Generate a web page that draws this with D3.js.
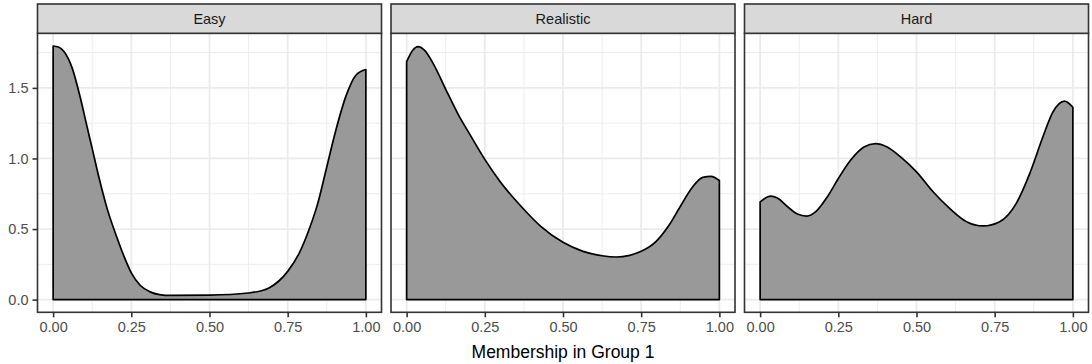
<!DOCTYPE html>
<html>
<head>
<meta charset="utf-8">
<script src="https://cdn.jsdelivr.net/npm/d3@7"></script>
<style>
  body { margin: 0; background: #fff; }
  svg text { font-family: "Liberation Sans", Arial, sans-serif; }
</style>
</head>
<body>
<div id="chart"></div>
<script>
// facet names
const facets = ["Easy", "Realistic", "Hard"];

// density curves (x = membership, y = density)
const easyX = [0, 0.017, 0.034, 0.061, 0.087, 0.109, 0.125, 0.146, 0.172, 0.204, 0.226, 0.25, 0.279, 0.31, 0.34, 0.375, 0.5, 0.625, 0.69, 0.75, 0.787, 0.819, 0.846, 0.875, 0.904, 0.936, 0.968, 1];
const easyY = [1.797, 1.79, 1.76, 1.64, 1.43, 1.22, 1.07, 0.87, 0.65, 0.44, 0.31, 0.19, 0.1, 0.055, 0.036, 0.03, 0.032, 0.047, 0.083, 0.2, 0.33, 0.5, 0.68, 0.94, 1.2, 1.44, 1.59, 1.63];

const realisticX = [0, 0.019, 0.037, 0.056, 0.088, 0.125, 0.163, 0.205, 0.251, 0.301, 0.376, 0.429, 0.5, 0.564, 0.625, 0.67, 0.713, 0.75, 0.798, 0.84, 0.875, 0.915, 0.947, 0.973, 1];
const realisticY = [1.686, 1.765, 1.792, 1.77, 1.66, 1.49, 1.32, 1.16, 0.99, 0.83, 0.637, 0.519, 0.406, 0.342, 0.311, 0.302, 0.314, 0.342, 0.413, 0.53, 0.66, 0.8, 0.866, 0.873, 0.844];

const hardX = [0, 0.034, 0.055, 0.087, 0.119, 0.149, 0.178, 0.215, 0.25, 0.289, 0.332, 0.369, 0.406, 0.449, 0.5, 0.553, 0.606, 0.66, 0.713, 0.766, 0.819, 0.862, 0.904, 0.936, 0.973, 1];
const hardY = [0.693, 0.733, 0.72, 0.66, 0.606, 0.592, 0.623, 0.729, 0.858, 0.987, 1.081, 1.105, 1.081, 1.011, 0.905, 0.764, 0.646, 0.552, 0.522, 0.552, 0.682, 0.893, 1.152, 1.328, 1.406, 1.363];

const xTicks = [0, 0.25, 0.5, 0.75, 1];
const xMinor = [0.125, 0.375, 0.625, 0.875];
const yTicks = [0, 0.5, 1.0, 1.5];
const yMinor = [0.25, 0.75, 1.25, 1.75];
const xTitle = "Membership in Group 1";

const curves = {
  Easy: easyX.map((x, i) => ({ x, y: easyY[i] })),
  Realistic: realisticX.map((x, i) => ({ x, y: realisticY[i] })),
  Hard: hardX.map((x, i) => ({ x, y: hardY[i] }))
};

const width = 1092, height = 364;
const plotLeft = 37.5, plotRight = 1088.5, gap = 9.5;
const stripTop = 4, stripH = 29.3, panelBottom = 312.3;
const panelTop = stripTop + stripH;
const panelW = (plotRight - plotLeft - 2 * gap) / 3;

const svg = d3.select("#chart").append("svg")
  .attr("width", width)
  .attr("height", height);

// y scale shared by all panels, with ggplot style 5% expansion
const yMax = d3.max([...easyY, ...realisticY, ...hardY]);
const yPad = yMax * 0.05;
const y = d3.scaleLinear()
  .domain([-yPad, yMax + yPad])
  .range([panelBottom, panelTop]);

facets.forEach((name, i) => {
  const left = plotLeft + i * (panelW + gap);
  const x = d3.scaleLinear()
    .domain([-0.05, 1.05])
    .range([left, left + panelW]);

  const g = svg.append("g");

  // panel background
  g.append("rect")
    .attr("x", left).attr("y", panelTop)
    .attr("width", panelW).attr("height", panelBottom - panelTop)
    .attr("fill", "#fff");

  // minor grid
  g.selectAll(".vminor").data(xMinor).join("line")
    .attr("x1", d => x(d)).attr("x2", d => x(d))
    .attr("y1", panelTop).attr("y2", panelBottom)
    .attr("stroke", "#EBEBEB").attr("stroke-width", 0.9);
  g.selectAll(".hminor").data(yMinor).join("line")
    .attr("x1", left).attr("x2", left + panelW)
    .attr("y1", d => y(d)).attr("y2", d => y(d))
    .attr("stroke", "#EBEBEB").attr("stroke-width", 0.9);

  // major grid
  g.selectAll(".vmajor").data(xTicks).join("line")
    .attr("x1", d => x(d)).attr("x2", d => x(d))
    .attr("y1", panelTop).attr("y2", panelBottom)
    .attr("stroke", "#EBEBEB").attr("stroke-width", 1.8);
  g.selectAll(".hmajor").data(yTicks).join("line")
    .attr("x1", left).attr("x2", left + panelW)
    .attr("y1", d => y(d)).attr("y2", d => y(d))
    .attr("stroke", "#EBEBEB").attr("stroke-width", 1.8);

  // density area
  const area = d3.area()
    .x(d => x(d.x))
    .y0(y(0))
    .y1(d => y(d.y))
    .curve(d3.curveMonotoneX);

  g.append("path")
    .datum(curves[name])
    .attr("d", area)
    .attr("fill", "#999999")
    .attr("stroke", "#000")
    .attr("stroke-width", 1.7)
    .attr("stroke-linejoin", "round");

  // panel border
  g.append("rect")
    .attr("x", left).attr("y", panelTop)
    .attr("width", panelW).attr("height", panelBottom - panelTop)
    .attr("fill", "none")
    .attr("stroke", "#333333").attr("stroke-width", 1.6);

  // strip
  g.append("rect")
    .attr("x", left).attr("y", stripTop)
    .attr("width", panelW).attr("height", stripH)
    .attr("fill", "#D9D9D9")
    .attr("stroke", "#333333").attr("stroke-width", 1.6);
  g.append("text")
    .attr("x", left + panelW / 2).attr("y", stripTop + stripH / 2)
    .attr("dy", "0.35em")
    .attr("text-anchor", "middle")
    .attr("font-size", 14.5)
    .attr("fill", "#1A1A1A")
    .text(name);

  // x axis
  const xAxis = g.append("g")
    .attr("transform", `translate(0,${panelBottom})`)
    .call(d3.axisBottom(x).tickValues(xTicks).tickFormat(d3.format(".2f")).tickSize(5).tickPadding(4));
  xAxis.select(".domain").remove();
  xAxis.selectAll(".tick line").attr("stroke", "#333333").attr("stroke-width", 1.6);
  xAxis.selectAll(".tick text").attr("font-size", 14.5).attr("fill", "#4D4D4D")
    .attr("font-family", "Liberation Sans, Arial, sans-serif");

  // y axis only on the first panel
  if (i === 0) {
    const yAxis = g.append("g")
      .attr("transform", `translate(${left},0)`)
      .call(d3.axisLeft(y).tickValues(yTicks).tickFormat(d3.format(".1f")).tickSize(5).tickPadding(4));
    yAxis.select(".domain").remove();
    yAxis.selectAll(".tick line").attr("stroke", "#333333").attr("stroke-width", 1.6);
    yAxis.selectAll(".tick text").attr("font-size", 14.5).attr("fill", "#4D4D4D")
      .attr("font-family", "Liberation Sans, Arial, sans-serif");
  }
});

// x axis title
svg.append("text")
  .attr("x", (plotLeft + plotRight) / 2)
  .attr("y", 352)
  .attr("dy", "0.35em")
  .attr("text-anchor", "middle")
  .attr("font-size", 17.5)
  .attr("fill", "#000")
  .text(xTitle);
</script>
</body>
</html>
